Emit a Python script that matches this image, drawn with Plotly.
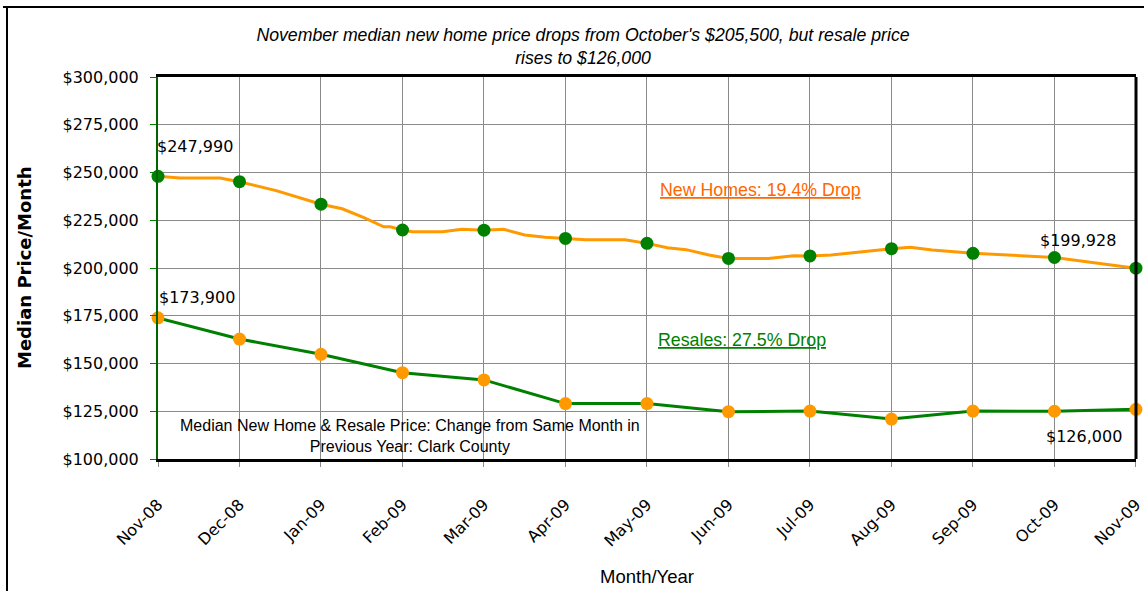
import plotly.graph_objects as go

# Monthly categories
months = ["Nov-08", "Dec-08", "Jan-09", "Feb-09", "Mar-09", "Apr-09", "May-09",
          "Jun-09", "Jul-09", "Aug-09", "Sep-09", "Oct-09", "Nov-09"]

# Median new home price, monthly
new_home_price = [247990, 245200, 233400, 219900, 219800, 215500, 212900,
                  205000, 206300, 210100, 207700, 205500, 199928]

# Median resale price, monthly
resale_price = [173900, 162800, 154800, 145200, 141400, 129000, 129000,
                124800, 125100, 120900, 125100, 125000, 126000]

# New home price trend line (finer, intra-month readings; position in months from Nov-08)
new_home_trend_pos = [0, 0.27, 0.76, 1, 1.45, 2, 2.26, 2.52, 2.77, 2.85, 3, 3.12, 3.49,
                      3.73, 4, 4.24, 4.50, 4.75, 5, 5.25, 5.73, 6, 6.25, 6.48, 6.76, 7,
                      7.49, 7.80, 8, 8.26, 9, 9.23, 9.50, 10, 11, 12]
new_home_trend_val = [247990, 247100, 247100, 245200, 240500, 233400, 231000, 226500,
                      221600, 221600, 219900, 219000, 219000, 220300, 219800, 220300,
                      217300, 216100, 215500, 214800, 214800, 212900, 210600, 209600,
                      206800, 205000, 205000, 206400, 206300, 206800, 210100, 210800,
                      209400, 207700, 205500, 199928]

y_ticks = [100000, 125000, 150000, 175000, 200000, 225000, 250000, 275000, 300000]
y_tick_text = [f"${v:,}" for v in y_ticks]

ORANGE = "#FF9900"
GREEN = "#008000"
DARK_GREEN = "#006400"
GRID = "#8a8a8a"
NUM_FONT = "DejaVu Sans"
TXT_FONT = "Liberation Sans, Arial, sans-serif"

idx = list(range(len(months)))

fig = go.Figure()

# New homes: orange trend line with green monthly markers
fig.add_trace(go.Scatter(
    x=new_home_trend_pos, y=new_home_trend_val, mode="lines",
    line=dict(color=ORANGE, width=3), hoverinfo="skip", showlegend=False,
    cliponaxis=False))
fig.add_trace(go.Scatter(
    x=idx, y=new_home_price, mode="markers", name="New Homes",
    marker=dict(color=GREEN, size=13), showlegend=False, cliponaxis=False))

# Resales: green line with orange markers
fig.add_trace(go.Scatter(
    x=idx, y=resale_price, mode="lines+markers", name="Resales",
    line=dict(color=GREEN, width=3),
    marker=dict(color=ORANGE, size=13), showlegend=False, cliponaxis=False))

annotations = [
    # point labels
    dict(x=0, y=new_home_price[0], text=f"${new_home_price[0]:,}", xanchor="left",
         yanchor="middle", yshift=30, xshift=-3, showarrow=False,
         font=dict(family=NUM_FONT, size=16, color="black")),
    dict(x=0, y=resale_price[0], text=f"${resale_price[0]:,}", xanchor="left",
         yanchor="middle", yshift=20, xshift=-1, showarrow=False,
         font=dict(family=NUM_FONT, size=16, color="black")),
    dict(x=12, y=new_home_price[-1], text=f"${new_home_price[-1]:,}", xanchor="right",
         yanchor="middle", yshift=28, xshift=-18, showarrow=False,
         font=dict(family=NUM_FONT, size=16, color="black")),
    dict(x=12, y=resale_price[-1], text=f"${resale_price[-1]:,}", xanchor="right",
         yanchor="middle", yshift=-27, xshift=-12, showarrow=False,
         font=dict(family=NUM_FONT, size=16, color="black")),
    # series captions
    dict(x=(658 - 158) / 978, y=(459 - 190) / 382, xref="paper", yref="paper",
         text="New Homes: 19.4% Drop", xanchor="left", yanchor="middle", showarrow=False,
         font=dict(family=TXT_FONT, size=17.8, color="#FF6600", lineposition="under")),
    dict(x=(656 - 158) / 978, y=(459 - 340) / 382, xref="paper", yref="paper",
         text="Resales: 27.5% Drop", xanchor="left", yanchor="middle", showarrow=False,
         font=dict(family=TXT_FONT, size=17.8, color=GREEN, lineposition="under")),
    # chart note
    dict(x=(410 - 158) / 978, y=(459 - 436) / 382, xref="paper", yref="paper",
         text="Median New Home & Resale Price: Change from Same Month in<br>Previous Year: Clark County",
         xanchor="center", yanchor="middle", showarrow=False, align="center",
         font=dict(family=TXT_FONT, size=16, color="black")),
    # axis titles
    dict(x=(24 - 158) / 978, y=0.5, xref="paper", yref="paper", text="<b>Median Price/Month</b>",
         textangle=-90, xanchor="center", yanchor="middle", showarrow=False,
         font=dict(family=NUM_FONT, size=18, color="black")),
    dict(x=(647 - 158) / 978, y=(459 - 576) / 382, xref="paper", yref="paper", text="Month/Year",
         xanchor="center", yanchor="middle", showarrow=False,
         font=dict(family=TXT_FONT, size=18.5, color="black")),
]

shapes = [
    # right border of the plot area
    dict(type="line", xref="paper", yref="paper", x0=1, x1=1, y0=0, y1=1,
         line=dict(color="black", width=3)),
    # outer chart frame (top and left)
    dict(type="line", xref="paper", yref="paper", x0=(3 - 158) / 978, x1=(1144 - 158) / 978,
         y0=(459 - 7) / 382, y1=(459 - 7) / 382, line=dict(color="black", width=2)),
    dict(type="line", xref="paper", yref="paper", x0=(7 - 158) / 978, x1=(7 - 158) / 978,
         y0=(459 - 7) / 382, y1=(459 - 600) / 382, line=dict(color="black", width=2)),
]

fig.update_layout(
    width=1144, height=591,
    margin=dict(l=158, r=8, t=77, b=132, autoexpand=False),
    paper_bgcolor="white", plot_bgcolor="white",
    showlegend=False,
    title=dict(
        text="<i>November median new home price drops from October's $205,500, but resale price<br>rises to $126,000</i>",
        x=583 / 1144, xanchor="center", xref="container",
        y=1 - 41 / 591, yanchor="middle", yref="container",
        font=dict(family=TXT_FONT, size=17.7, color="black")),
    annotations=annotations,
    shapes=shapes,
    xaxis=dict(
        range=[0, 12.0005], tickmode="array", tickvals=idx, ticktext=months, tickangle=-45,
        showgrid=True, gridcolor=GRID, gridwidth=1,
        showline=True, linecolor="black", linewidth=3, mirror=True,
        ticks="outside", ticklen=5, tickcolor=GRID, ticklabelstandoff=22,
        ticklabeloverflow="allow", automargin=False,
        tickfont=dict(family=NUM_FONT, size=16, color="black"),
        zeroline=False, fixedrange=True),
    yaxis=dict(
        range=[100000, 300000], tickmode="array", tickvals=y_ticks, ticktext=y_tick_text,
        showgrid=True, gridcolor=GRID, gridwidth=1,
        showline=True, linecolor=DARK_GREEN, linewidth=2, mirror=False,
        ticks="outside", ticklen=6, tickcolor=GREEN, ticklabelstandoff=8,
        automargin=False,
        tickfont=dict(family=NUM_FONT, size=16, color="black"),
        zeroline=False, fixedrange=True),
)

fig.write_html("out.html")
